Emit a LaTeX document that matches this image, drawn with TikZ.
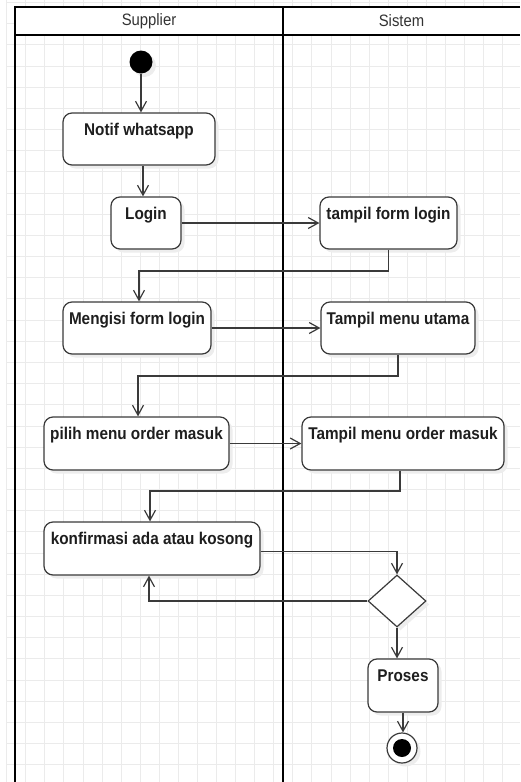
\documentclass[tikz,border=0pt]{standalone}
\usepackage{fontspec}
\setmainfont{Liberation Sans}[FakeStretch=0.9]
\usetikzlibrary{arrows.meta,shapes.geometric,shadows,calc}

\definecolor{gridgray}{HTML}{EBEBEB}
\definecolor{edgegray}{HTML}{3A3A3A}
\definecolor{txtdark}{HTML}{1E1E1E}
\definecolor{headtxt}{HTML}{333333}

\begin{document}
\begin{tikzpicture}[x=1pt,y=-1pt,
  softshadow/.style={drop shadow={shadow xshift=3.5pt,shadow yshift=-3.5pt,opacity=1,fill=black!7}},
  actbox/.style={draw=edgegray, line width=1.2pt, fill=white, rounded corners=9pt, inner sep=0pt, softshadow},
  acttext/.style={anchor=north, inner sep=0pt, text height=12.4pt, text depth=3.6pt, text=txtdark,
    font=\bfseries\fontsize{17}{20}\selectfont},
  flowline/.style={draw=edgegray, line width=1.2pt,
    -{Straight Barb[length=10pt,width=11pt,line width=1.2pt]}},
  laneline/.style={draw=black, line width=2pt},
  lanehead/.style={text=headtxt, font=\fontsize{16.5}{20}\selectfont, inner sep=0pt},
]
\useasboundingbox (0,0) rectangle (520,782);

% background grid
\foreach \i in {0,...,27}
  \draw[gridgray, line width=1pt] (6.7+19.08*\i,0) -- (6.7+19.08*\i,782);
\foreach \j in {0,...,36}
  \draw[gridgray, line width=1pt] (6.7,2.6+21.17*\j) -- (520,2.6+21.17*\j);

% swimlane pool
\fill[white] (15,7) rectangle (520,34.5);
\draw[laneline] (520,7) -- (15,7) -- (15,782);
\draw[laneline] (15,34.5) -- (520,34.5);
\draw[laneline] (283,7) -- (283,782);
\node[lanehead] (hsup) at (149,21) {Supplier};
\node[lanehead] (hsis) at (401.5,21) {Sistem};

% initial node
\node[circle, fill=black, minimum size=23pt, inner sep=0pt, softshadow] (start) at (141,62) {};

% activities
\node[actbox, minimum width=152pt, minimum height=52pt] (notif) at (139,139) {};
\node[acttext] (notif-t) at ($(notif.north)+(0,10)$) {Notif whatsapp};

\node[actbox, minimum width=70pt, minimum height=52pt] (login) at (146,223) {};
\node[acttext] (login-t) at ($(login.north)+(0,10)$) {Login};

\node[actbox, minimum width=137pt, minimum height=52pt] (tfl) at (388.5,223) {};
\node[acttext] (tfl-t) at ($(tfl.north)+(0,10)$) {tampil form login};

\node[actbox, minimum width=148pt, minimum height=52pt] (mfl) at (137,328) {};
\node[acttext] (mfl-t) at ($(mfl.north)+(0,10)$) {Mengisi form login};

\node[actbox, minimum width=154pt, minimum height=52pt] (tmu) at (398,328) {};
\node[acttext] (tmu-t) at ($(tmu.north)+(0,10)$) {Tampil menu utama};

\node[actbox, minimum width=185pt, minimum height=53pt] (pmo) at (136.5,443.5) {};
\node[acttext] (pmo-t) at ($(pmo.north)+(0,10)$) {pilih menu order masuk};

\node[actbox, minimum width=202pt, minimum height=53pt] (tmo) at (403,443.5) {};
\node[acttext] (tmo-t) at ($(tmo.north)+(0,10)$) {Tampil menu order masuk};

\node[actbox, minimum width=216pt, minimum height=53pt] (konf) at (152,548.5) {};
\node[acttext] (konf-t) at ($(konf.north)+(0,10)$) {konfirmasi ada atau kosong};

% decision
\node[diamond, draw=edgegray, line width=1.2pt, fill=white, minimum width=58pt, minimum height=52pt,
  inner sep=0pt, softshadow] (dia) at (397,601) {};

\node[actbox, minimum width=70pt, minimum height=53pt] (proses) at (403,685.5) {};
\node[acttext] (proses-t) at ($(proses.north)+(0,10)$) {Proses};

% final node
\node[circle, draw=edgegray, line width=1.2pt, fill=white, minimum size=30pt, inner sep=0pt, softshadow,
  path picture={\fill[black] (path picture bounding box.center) circle[radius=9pt];}] (stop) at (402,748) {};

% control flow
\coordinate (j1) at (139,271);
\coordinate (j2) at (138,376);
\coordinate (j3) at (150,491);

\draw[flowline] (start) -- (start |- notif.north);
\draw[flowline] ($(notif.south)+(4,0)$) -- ($(login.north)+(-3,0)$);
\draw[flowline] (login) -- (tfl);
\draw[flowline] (tfl.south) |- (j1) -- (j1 |- mfl.north);
\draw[flowline] (mfl) -- (tmu);
\draw[flowline] (tmu.south) |- (j2) -- (j2 |- pmo.north);
\draw[flowline] (pmo) -- (tmo);
\draw[flowline] ($(tmo.south)+(-3,0)$) |- (j3) -- (j3 |- konf.north);
\draw[flowline] ($(konf.east)+(0,3)$) -| (dia.north);
\draw[flowline] (dia.west) -| ($(konf.south)+(-3,0)$);
\draw[flowline] (dia.south) -- (dia.south |- proses.north);
\draw[flowline] (proses.south) -- (proses.south |- stop.north);
\end{tikzpicture}
\end{document}
